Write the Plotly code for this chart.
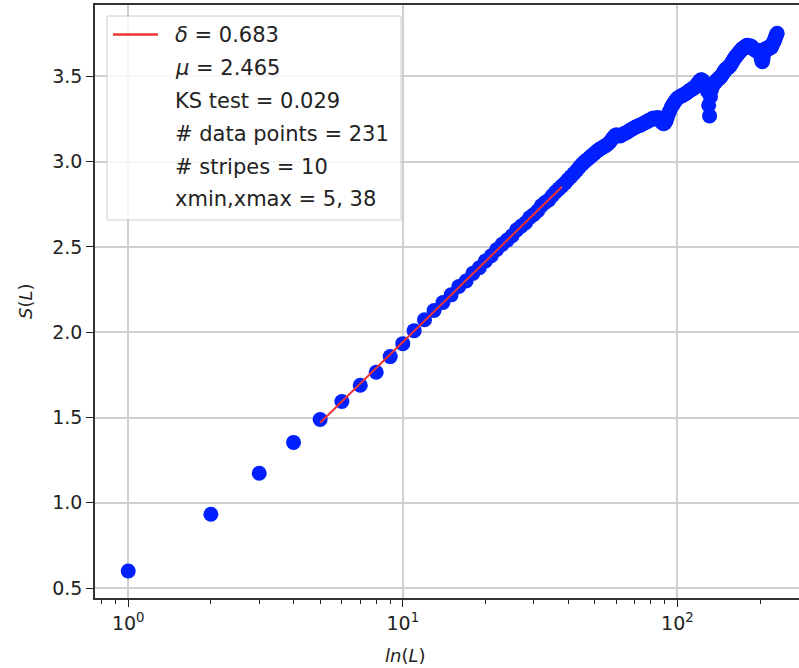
import plotly.graph_objects as go

# ---------------- data ----------------
L_values = list(range(1, 232))
S_values = [
    0.600, 0.933, 1.173, 1.354, 1.488, 1.594, 1.689, 1.765, 1.857, 1.933,
    2.009, 2.073, 2.127, 2.174, 2.219, 2.268, 2.300, 2.345, 2.378, 2.418,
    2.448, 2.485, 2.515, 2.540, 2.565, 2.600, 2.622, 2.642, 2.672, 2.690,
    2.712, 2.742, 2.760, 2.775, 2.800, 2.822, 2.840, 2.858, 2.875, 2.895,
    2.912, 2.930, 2.948, 2.968, 2.985, 3.000, 3.012, 3.025, 3.038, 3.050,
    3.062, 3.072, 3.080, 3.088, 3.095, 3.105, 3.118, 3.135, 3.150, 3.158,
    3.152, 3.150, 3.158, 3.165, 3.168, 3.175, 3.182, 3.188, 3.194, 3.200,
    3.205, 3.210, 3.212, 3.218, 3.222, 3.228, 3.232, 3.236, 3.243, 3.246,
    3.252, 3.255, 3.250, 3.256, 3.258, 3.252, 3.240, 3.228, 3.222, 3.226,
    3.240, 3.262, 3.285, 3.300, 3.318, 3.330, 3.340, 3.352, 3.362, 3.370,
    3.376, 3.380, 3.383, 3.388, 3.390, 3.395, 3.398, 3.402, 3.408, 3.412,
    3.418, 3.420, 3.425, 3.428, 3.432, 3.438, 3.445, 3.452, 3.460, 3.468,
    3.475, 3.480, 3.478, 3.472, 3.465, 3.455, 3.440, 3.425, 3.410, 3.330,
    3.268, 3.380, 3.420, 3.440, 3.450, 3.455, 3.462, 3.470, 3.475, 3.480,
    3.485, 3.488, 3.492, 3.498, 3.505, 3.512, 3.520, 3.528, 3.535, 3.540,
    3.545, 3.548, 3.552, 3.555, 3.558, 3.565, 3.572, 3.580, 3.588, 3.595,
    3.602, 3.608, 3.615, 3.620, 3.625, 3.630, 3.635, 3.640, 3.645, 3.650,
    3.655, 3.660, 3.662, 3.665, 3.668, 3.672, 3.675, 3.678, 3.680, 3.682,
    3.680, 3.676, 3.672, 3.675, 3.678, 3.675, 3.670, 3.665, 3.662, 3.660,
    3.658, 3.655, 3.652, 3.650, 3.648, 3.645, 3.648, 3.652, 3.650, 3.640,
    3.625, 3.605, 3.590, 3.585, 3.600, 3.625, 3.645, 3.655, 3.660, 3.662,
    3.660, 3.655, 3.660, 3.665, 3.668, 3.672, 3.675, 3.672, 3.668, 3.672,
    3.680, 3.688, 3.695, 3.700, 3.705, 3.712, 3.722, 3.732, 3.740, 3.745,
    3.752,
]
fit_L = [5, 38]
fit_S = [1.469, 2.853]

legend_lines = [
    "<i>δ</i> = 0.683",
    "<i>μ</i> = 2.465",
    "KS test = 0.029",
    "# data points = 231",
    "# stripes = 10",
    "xmin,xmax = 5, 38",
]
x_tick_vals = [1, 10, 100]
x_tick_text = ["10<sup>0</sup>", "10<sup>1</sup>", "10<sup>2</sup>"]
x_minor_vals = [0.8, 0.9, 2, 3, 4, 5, 6, 7, 8, 9,
                20, 30, 40, 50, 60, 70, 80, 90, 200]
y_tick_vals = [0.5, 1.0, 1.5, 2.0, 2.5, 3.0, 3.5]
y_tick_text = ["0.5", "1.0", "1.5", "2.0", "2.5", "3.0", "3.5"]

# ---------------- layout geometry ----------------
W, H = 799, 668
L_M, R_M, T_M, B_M = 95, 0, 5, 70
PW, PH = W - L_M - R_M, H - T_M - B_M


def px_x(p):
    return (p - L_M) / PW


def px_y(p):
    return (H - B_M - p) / PH


FONT = "DejaVu Sans"
TXT = "#222222"
BLUE = "#0020ff"
RED = "#ee3333"

fig = go.Figure()
fig.add_trace(go.Scatter(
    x=L_values, y=S_values, mode="markers",
    marker=dict(size=15, color=BLUE, line=dict(width=0)),
    showlegend=False, hoverinfo="x+y",
))
fig.add_trace(go.Scatter(
    x=fit_L, y=fit_S, mode="lines",
    line=dict(color=RED, width=2),
    showlegend=False,
))

shapes = []
annotations = []
# legend frame
shapes.append(dict(
    type="rect", xref="paper", yref="paper",
    x0=px_x(107), x1=px_x(401), y0=px_y(220), y1=px_y(16),
    fillcolor="rgba(255,255,255,0.8)", line=dict(color="#cccccc", width=1),
    layer="above",
))
# legend sample line
shapes.append(dict(
    type="line", xref="paper", yref="paper",
    x0=px_x(113), x1=px_x(158), y0=px_y(34.5), y1=px_y(34.5),
    line=dict(color=RED, width=2.5), layer="above",
))
row_y = [35, 68, 101, 134, 167, 199]
for txt, yy in zip(legend_lines, row_y):
    annotations.append(dict(
        text=txt, xref="paper", yref="paper",
        x=px_x(173), y=px_y(yy), xanchor="left", yanchor="middle",
        showarrow=False, font=dict(family=FONT, size=21, color=TXT),
    ))
# axis titles
annotations.append(dict(
    text="<i>S</i>(<i>L</i>)", xref="paper", yref="paper",
    x=px_x(25), y=px_y(301), xanchor="center", yanchor="middle",
    textangle=-90, showarrow=False, font=dict(family=FONT, size=18, color=TXT),
))
annotations.append(dict(
    text="<i>ln</i>(<i>L</i>)", xref="paper", yref="paper",
    x=px_x(405), y=px_y(655), xanchor="center", yanchor="middle",
    showarrow=False, font=dict(family=FONT, size=18, color=TXT),
))

fig.update_layout(
    width=W, height=H,
    margin=dict(l=L_M, r=R_M, t=T_M, b=B_M, pad=0),
    paper_bgcolor="white", plot_bgcolor="white",
    shapes=shapes, annotations=annotations,
    font=dict(family=FONT, color=TXT),
    showlegend=False,
)
fig.update_xaxes(
    type="log", range=[-0.121, 2.443],
    tickmode="array", tickvals=x_tick_vals, ticktext=x_tick_text,
    ticks="outside", ticklen=7, tickwidth=1.3, tickcolor="#222",
    tickfont=dict(family=FONT, size=19, color=TXT),
    showgrid=True, gridcolor="#cfcfcf", gridwidth=1.5,
    showline=True, linecolor="#333", linewidth=1.5, mirror=True,
    zeroline=False,
    minor=dict(tickmode="array", tickvals=x_minor_vals, ticks="outside",
               ticklen=4, tickwidth=1, tickcolor="#222", showgrid=False),
)
fig.update_yaxes(
    range=[0.442, 3.918],
    tickmode="array", tickvals=y_tick_vals, ticktext=y_tick_text,
    ticks="outside", ticklen=7, tickwidth=1.3, tickcolor="#222",
    tickfont=dict(family=FONT, size=19, color=TXT),
    showgrid=True, gridcolor="#cfcfcf", gridwidth=1.5,
    showline=True, linecolor="#333", linewidth=1.5, mirror=False,
    zeroline=False,
)

fig.write_html(
    "out.html",
    config={"displayModeBar": False},
    post_script="document.body.style.margin='0';document.body.style.overflow='hidden';",
)
